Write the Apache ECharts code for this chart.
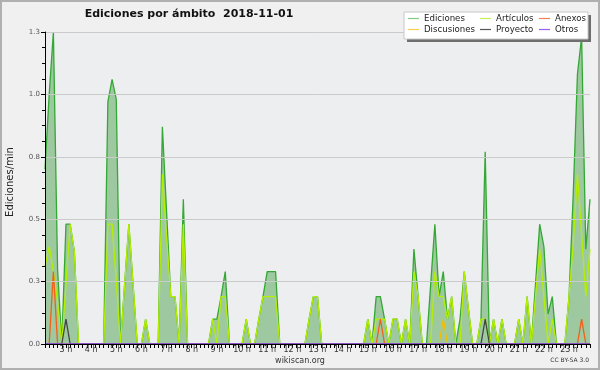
<!DOCTYPE html>
<html><head><meta charset="utf-8">
<script src="https://cdn.jsdelivr.net/npm/echarts@6/dist/echarts.min.js"></script>
<style>html,body{margin:0;padding:0;background:#f0f0f0}#c{width:600px;height:370px}</style>
</head><body><div id="c"></div>
<script>
// 10-minute buckets from 02:10 to 23:50
const firstBucket = [2, 10];
const stepMinutes = 10;
const bucketCount = 131;
const hourLabels = ["3 h","4 h","5 h","6 h","7 h","8 h","9 h","10 h","11 h","12 h","13 h","14 h","15 h","16 h","17 h","18 h","19 h","20 h","21 h","22 h","23 h"];
const yTickLabels = ["0.0","0.3","0.5","0.8","1.0","1.3"];

const ediciones = [
  0.7, 1.0, 1.25, 0.3, 0,
  0.48, 0.48, 0.37, 0, 0, 0,
  0, 0, 0, 0, 0.97, 1.06,
  0.98, 0, 0.24, 0.48, 0.24, 0,
  0, 0.1, 0, 0, 0, 0.87,
  0.53, 0.19, 0.19, 0, 0.58, 0,
  0, 0, 0, 0, 0, 0.1,
  0.1, 0.19, 0.29, 0, 0, 0,
  0, 0.1, 0, 0, 0.1, 0.19,
  0.29, 0.29, 0.29, 0, 0, 0,
  0, 0, 0, 0, 0.1, 0.19,
  0.19, 0, 0, 0, 0, 0,
  0, 0, 0, 0, 0, 0,
  0.1, 0, 0.19, 0.19, 0.1, 0,
  0.1, 0.1, 0, 0.1, 0, 0.38,
  0.19, 0, 0, 0.24, 0.48, 0.19,
  0.29, 0.1, 0.19, 0, 0.1, 0.29,
  0.14, 0, 0, 0.1, 0.77, 0,
  0.1, 0, 0.1, 0, 0, 0,
  0.1, 0, 0.19, 0, 0.24, 0.48,
  0.39, 0.12, 0.19, 0, 0, 0,
  0.19, 0.6, 1.08, 1.23, 0.38, 0.58
];
const articulos = [
  0.31, 0.39, 0.29, 0.17, 0,
  0.24, 0.48, 0.37, 0, 0, 0,
  0, 0, 0, 0, 0.48, 0.48,
  0.25, 0, 0.24, 0.48, 0.24, 0,
  0, 0.1, 0, 0, 0, 0.68,
  0.43, 0.19, 0.19, 0, 0.48, 0,
  0, 0, 0, 0, 0, 0.1,
  0, 0.19, 0.19, 0, 0, 0,
  0, 0.1, 0, 0, 0.1, 0.19,
  0.19, 0.19, 0.19, 0, 0, 0,
  0, 0, 0, 0, 0.1, 0.19,
  0.19, 0, 0, 0, 0, 0,
  0, 0, 0, 0, 0, 0,
  0.1, 0, 0.1, 0.1, 0.1, 0,
  0.1, 0.1, 0, 0.1, 0, 0.29,
  0.19, 0, 0, 0, 0.29, 0.19,
  0.19, 0.1, 0.19, 0, 0, 0.29,
  0.14, 0, 0, 0.1, 0.1, 0,
  0.1, 0, 0.1, 0, 0, 0,
  0.1, 0, 0.19, 0, 0.19, 0.38,
  0.19, 0, 0.1, 0, 0, 0,
  0.19, 0.4, 0.68, 0.44, 0.19, 0.38
];
const anexos = [
  0, 0, 0.29, 0, 0,
  0, 0, 0, 0, 0, 0,
  0, 0, 0, 0, 0, 0,
  0, 0, 0, 0, 0, 0,
  0, 0, 0, 0, 0, 0,
  0, 0, 0, 0, 0, 0,
  0, 0, 0, 0, 0, 0,
  0, 0, 0, 0, 0, 0,
  0, 0, 0, 0, 0, 0,
  0, 0, 0, 0, 0, 0,
  0, 0, 0, 0, 0, 0,
  0, 0, 0, 0, 0, 0,
  0, 0, 0, 0, 0, 0,
  0, 0, 0, 0.1, 0, 0,
  0, 0, 0, 0, 0, 0,
  0, 0, 0, 0, 0, 0,
  0, 0, 0, 0, 0, 0,
  0, 0, 0, 0, 0, 0,
  0, 0, 0, 0, 0, 0,
  0, 0, 0, 0, 0, 0,
  0, 0, 0, 0, 0, 0,
  0, 0, 0, 0.1, 0, 0
];
const discusiones = [
  0, 0, 0, 0, 0,
  0, 0, 0, 0, 0, 0,
  0, 0, 0, 0, 0, 0,
  0, 0, 0, 0, 0, 0,
  0, 0, 0, 0, 0, 0,
  0, 0, 0, 0, 0, 0,
  0, 0, 0, 0, 0, 0,
  0, 0, 0, 0, 0, 0,
  0, 0, 0, 0, 0, 0,
  0, 0, 0, 0, 0, 0,
  0, 0, 0, 0, 0, 0,
  0, 0, 0, 0, 0, 0,
  0, 0, 0, 0, 0, 0,
  0, 0, 0, 0, 0, 0,
  0, 0, 0, 0, 0, 0,
  0, 0, 0, 0, 0, 0,
  0.1, 0, 0, 0, 0, 0,
  0, 0, 0, 0, 0, 0,
  0, 0, 0, 0, 0, 0,
  0, 0, 0, 0, 0, 0,
  0, 0, 0, 0, 0, 0,
  0, 0, 0, 0, 0, 0
];
const proyecto = [
  0, 0, 0, 0, 0,
  0.1, 0, 0, 0, 0, 0,
  0, 0, 0, 0, 0, 0,
  0, 0, 0, 0, 0, 0,
  0, 0, 0, 0, 0, 0,
  0, 0, 0, 0, 0, 0,
  0, 0, 0, 0, 0, 0,
  0, 0, 0, 0, 0, 0,
  0, 0, 0, 0, 0, 0,
  0, 0, 0, 0, 0, 0,
  0, 0, 0, 0, 0, 0,
  0, 0, 0, 0, 0, 0,
  0, 0, 0, 0, 0, 0,
  0, 0, 0, 0, 0, 0,
  0, 0, 0, 0, 0, 0,
  0, 0, 0, 0, 0, 0,
  0, 0, 0, 0, 0, 0,
  0, 0, 0, 0, 0.1, 0,
  0, 0, 0, 0, 0, 0,
  0, 0, 0, 0, 0, 0,
  0, 0, 0, 0, 0, 0,
  0, 0, 0, 0, 0, 0
];
const otros = new Array(bucketCount).fill(0);

const seriesNames = ["Ediciones","Artículos","Anexos","Discusiones","Proyecto","Otros"];
const seriesColors = ["#33a833","#b4ee00","#f06018","#f2c000","#444444","#9050f0"];
const legendColors = ["#80cc80","#c6ee60","#f08050","#f8cc50","#555555","#9960f0"];

// categories
const categories = [];
for (let i = 0; i < bucketCount; i++) {
  const m = firstBucket[0] * 60 + firstBucket[1] + i * stepMinutes;
  const h = Math.floor(m / 60), mm = m % 60;
  categories.push((h < 10 ? "0" : "") + h + ":" + (mm < 10 ? "0" : "") + mm);
}
function hourLabelFor(idx) {
  const cat = categories[idx];
  const h = parseInt(cat.split(":")[0], 10);
  const k = hourLabels.indexOf(h + " h");
  return k >= 0 ? hourLabels[k] : "";
}

const FONT = "DejaVu Sans";
const chart = echarts.init(document.getElementById('c'), null, {renderer: 'canvas'});

const dataArrays = [ediciones, articulos, anexos, discusiones, proyecto, otros];
const series = dataArrays.map((d, k) => ({
  name: seriesNames[k],
  type: 'line',
  data: d,
  showSymbol: false,
  symbol: 'none',
  lineStyle: {color: seriesColors[k], width: k === 0 ? 1.3 : 1.3},
  itemStyle: {color: seriesColors[k]},
  areaStyle: k === 0 ? {color: 'rgba(50,150,50,0.42)', opacity: 1} : undefined,
  z: 2 + k,
  animation: false
}));

function legendCol(names, left) {
  return {
    orient: 'vertical', left: left, top: 13,
    itemWidth: 11, itemHeight: 1.2, itemGap: 0,
    icon: 'rect', padding: 0,
    selectedMode: false,
    data: names.map(n => ({name: n, itemStyle: {color: legendColors[seriesNames.indexOf(n)]}})),
    textStyle: {fontFamily: FONT, fontSize: 8.6, color: '#222', lineHeight: 11, padding: [0, 0, 0, 0]},
    z: 20
  };
}

const option = {
  backgroundColor: '#f0f0f0',
  animation: false,
  grid: {left: 45, right: 10, top: 32, bottom: 26, show: true, backgroundColor: '#edeef0', borderWidth: 0},
  legend: [
    legendCol(["Ediciones","Discusiones"], 408),
    legendCol(["Artículos","Proyecto"], 480),
    legendCol(["Anexos","Otros"], 539)
  ],
  xAxis: {
    type: 'category', data: categories, boundaryGap: false, z: 10,
    axisLine: {lineStyle: {color: '#000', width: 1}},
    axisTick: {show: true, interval: 0, length: 4, lineStyle: {color: '#000'}},
    axisLabel: {
      interval: (idx) => hourLabelFor(idx) !== "" && categories[idx].endsWith(":00"),
      formatter: (v, idx) => hourLabelFor(idx),
      fontFamily: FONT, fontSize: 8, color: '#333', margin: 2
    },
    splitLine: {show: false}
  },
  yAxis: {
    type: 'value', min: 0, max: 1.25, interval: 0.25, z: 10,
    axisLine: {show: true, lineStyle: {color: '#000', width: 1}},
    axisTick: {show: true, length: 4, lineStyle: {color: '#000'}},
    minorTick: {show: true, splitNumber: 4, length: 3, lineStyle: {color: '#000'}},
    axisLabel: {formatter: (v) => yTickLabels[Math.round(v / 0.25)], fontFamily: FONT, fontSize: 7, color: '#555', margin: 5},
    splitLine: {show: true, lineStyle: {color: '#cacaca', width: 1}}
  },
  series: series,
  graphic: [
    {type: 'rect', shape: {x: 1, y: 1, width: 598, height: 368}, style: {fill: 'none', stroke: '#b0b0b0', lineWidth: 2}, z: 100, silent: true},
    {type: 'rect', shape: {x: 407, y: 15, width: 184, height: 27}, style: {fill: '#6e6e6e'}, z: 15, silent: true},
    {type: 'rect', shape: {x: 404, y: 12, width: 184, height: 27}, style: {fill: '#ffffff', stroke: '#c8c8c8', lineWidth: 1}, z: 16, silent: true},
    {type: 'text', x: 189, y: 14, style: {text: 'Ediciones por ámbito  2018-11-01', font: 'bold 11px "DejaVu Sans"', fill: '#111', align: 'center', verticalAlign: 'middle'}, z: 30},
    {type: 'text', x: 10, y: 182, rotation: Math.PI / 2, style: {text: 'Ediciones/min', font: '10px "DejaVu Sans"', fill: '#222', align: 'center', verticalAlign: 'middle'}, z: 30},
    {type: 'text', x: 300, y: 361, style: {text: 'wikiscan.org', font: '8px "DejaVu Sans"', fill: '#333', align: 'center', verticalAlign: 'middle'}, z: 30},
    {type: 'text', x: 589, y: 360, style: {text: 'CC BY-SA 3.0', font: '6px "DejaVu Sans"', fill: '#333', align: 'right', verticalAlign: 'middle'}, z: 30}
  ]
};
chart.setOption(option);
</script>
</body></html>
